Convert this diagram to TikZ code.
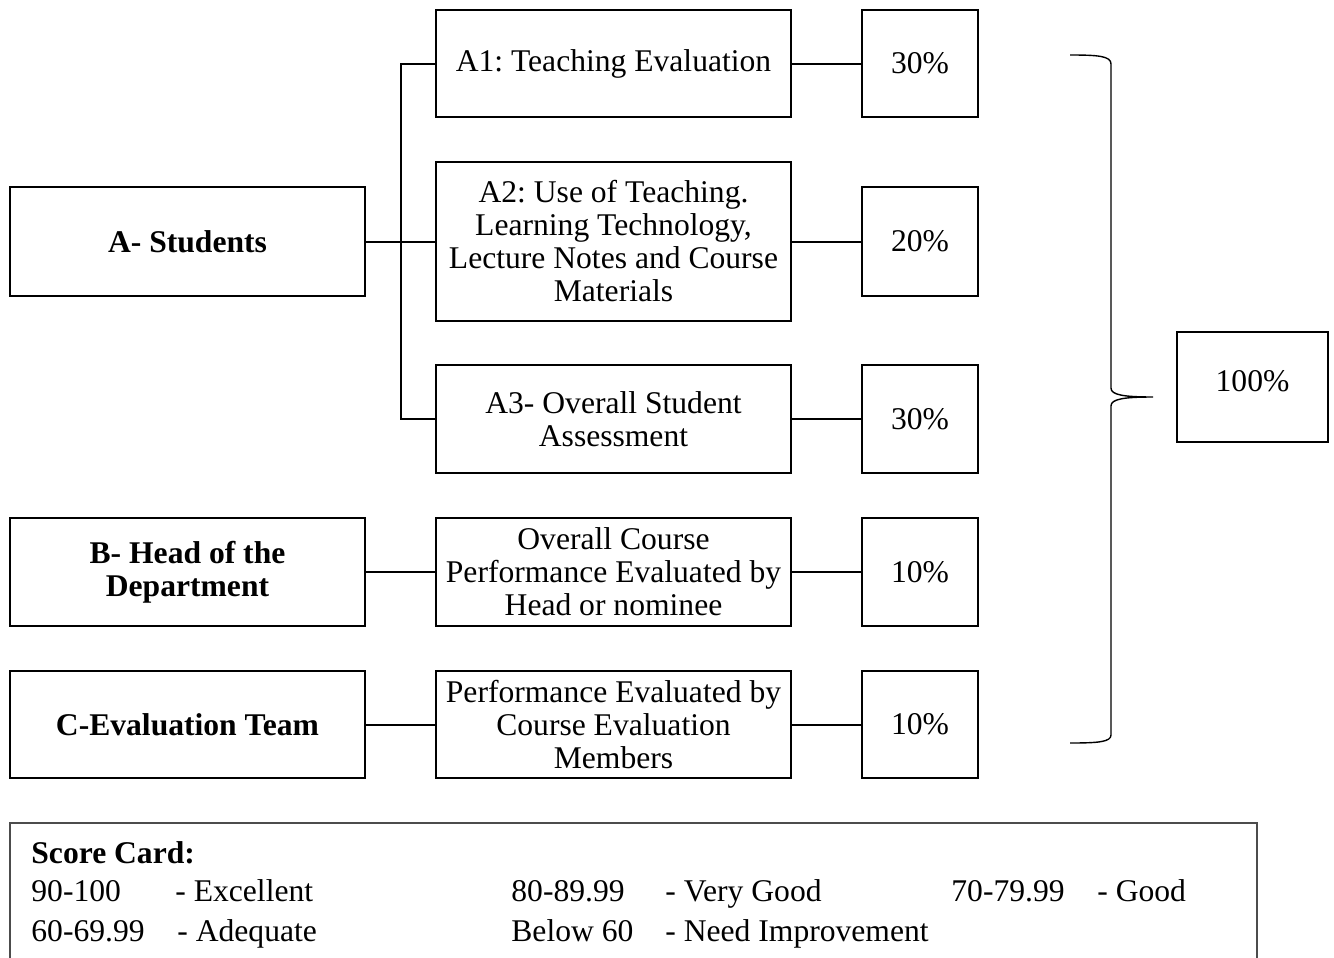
\documentclass[tikz,border=0pt]{standalone}
\usepackage{fontspec}
\setmainfont{Liberation Serif}
\usetikzlibrary{calc}
\frenchspacing

\newcommand{\boxfont}{\fontsize{15.8}{16.5}\selectfont}

\tikzset{
  box/.style={draw, line width=1pt, align=center, inner sep=0pt,
              font=\boxfont, minimum width=177.5pt},
  pct/.style={box, minimum width=58pt},
  link/.style={line width=1pt},
  bracestroke/.style={line width=0.7pt},
  card/.style={draw=black!70, line width=0.6pt},
  cardtext/.style={anchor=base west, inner sep=0pt, font=\boxfont},
}

\begin{document}
\begin{tikzpicture}[x=0.5pt, y=-0.5pt]
\clip (0,0) rectangle (1334,958);
\fill[white] (0,0) rectangle (1334,958);

% evaluators
\node[box, minimum height=54.5pt] (a) at (187.5,241.5) {\textbf{A- Students}};
\node[box, minimum height=54pt]   (b) at (187.5,572)   {\textbf{B- Head of the}\\\textbf{Department}};
\node[box, minimum height=53.5pt] (c) at (187.5,724.5) {\textbf{C-Evaluation Team}};

% criteria
\node[box, minimum height=53.5pt] (a1) at (613.5,63.5) {A1: Teaching Evaluation};
\node[box, minimum height=79.5pt] (a2) at (613.5,241.5) {A2: Use of Teaching.\\Learning Technology,\\Lecture Notes and Course\\Materials};
\node[box, minimum height=54pt]   (a3) at (613.5,419) {A3- Overall Student\\Assessment};
\node[box, minimum height=54pt]   (hb) at (613.5,572) {Overall Course\\Performance Evaluated by\\Head or nominee};
\node[box, minimum height=53.5pt] (tc) at (613.5,724.5) {Performance Evaluated by\\Course Evaluation\\Members};

% weights
\node[pct, minimum height=53.5pt] (p1) at (920,63.5)  {30\%};
\node[pct, minimum height=54.5pt] (p2) at (920,241.5) {20\%};
\node[pct, minimum height=54pt]   (p3) at (920,419)   {30\%};
\node[pct, minimum height=54pt]   (p4) at (920,572)   {10\%};
\node[pct, minimum height=53.5pt] (p5) at (920,724.5) {10\%};

% total
\node[box, minimum width=75.5pt, minimum height=55pt] (total) at (1252.5,387) {\raisebox{6.5pt}{100\%}};

% tree from students to A1..A3
\coordinate (fork) at ($(a.east)!0.5!(a2.west)$);
\draw[link] (a.east) -- (a2.west);
\draw[link] (a1.west) -| (fork) |- (a3.west);

% criteria to weights
\draw[link] (a1.east) -- (p1.west);
\draw[link] (a2.east) -- (p2.west);
\draw[link] (a3.east) -- (p3.west);
\draw[link] (b.east) -- (hb.west);
\draw[link] (hb.east) -- (p4.west);
\draw[link] (c.east) -- (tc.west);
\draw[link] (tc.east) -- (p5.west);

% brace gathering all weights
\coordinate (btop) at (1070,55);
\coordinate (btip) at (1153,397);
\coordinate (bbot) at (1070,743);
\draw[bracestroke] (btop) .. controls (1098,55) and (1111,56) .. (1111,64)
  -- (1111,388) .. controls (1111,395) and (1124,397) .. (btip)
  .. controls (1124,397) and (1111,399) .. (1111,406)
  -- (1111,735) .. controls (1111,742) and (1098,743) .. (bbot);

% score card
\draw[card] (10,980) |- (1257,823) -- (1257,980);
\node[cardtext] (sc) at (31,863) {\textbf{Score Card:}};
\node[cardtext] (r1a) at (31,901)  {90-100};
\node[cardtext] (r1b) at (175,901) {- Excellent};
\node[cardtext] (r1c) at (511,901) {80-89.99};
\node[cardtext] (r1d) at (665,901) {- Very Good};
\node[cardtext] (r1e) at (951,901) {70-79.99};
\node[cardtext] (r1f) at (1097,901) {- Good};
\node[cardtext] (r2a) at (31,941)  {60-69.99};
\node[cardtext] (r2b) at (177,941) {- Adequate};
\node[cardtext] (r2c) at (511,941) {Below 60};
\node[cardtext] (r2d) at (665,941) {- Need Improvement};
\end{tikzpicture}
\end{document}
